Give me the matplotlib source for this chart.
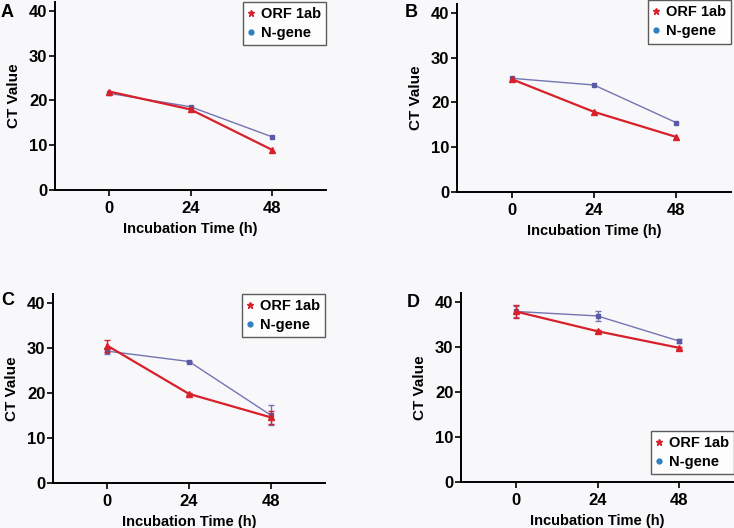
import matplotlib
matplotlib.use("Agg")
import matplotlib.pyplot as plt
from matplotlib.lines import Line2D

plt.rcParams['font.family'] = ['Liberation Sans', 'DejaVu Sans']
plt.rcParams['font.weight'] = 'bold'

# incubation times (h)
hours = [0, 24, 48]

# CT values per panel
orf_a = [22.0, 18.0, 9.0]
ngene_a = [21.6, 18.6, 11.9]

orf_b = [25.2, 17.9, 12.3]
ngene_b = [25.4, 23.9, 15.5]

orf_c = [30.5, 19.8, 14.6]
ngene_c = [29.3, 27.0, 15.1]
orf_c_err = [1.3, 0.3, 1.5]
ngene_c_err = [0.7, 0.2, 2.2]

orf_d = [37.9, 33.5, 29.8]
ngene_d = [37.9, 36.9, 31.3]
orf_d_err = [1.4, 0.3, 0.3]
ngene_d_err = [1.3, 1.2, 0.5]

panel_names = ['A', 'B', 'C', 'D']

red = '#d8202a'
purple = '#7474b4'
blue = '#2f80c0'
bg = '#f8f8fa'

fig = plt.figure(figsize=(7.34, 5.28), dpi=100, facecolor=bg)

W, H = 734, 528
# axes boxes in pixels: left, right, top, bottom
boxes = [(55, 326, 2, 190), (457, 731, 4, 192), (53, 325, 294, 483), (461, 734, 293, 482)]
letter_pos = [(1, 4), (405, 4), (1, 292), (407, 294)]
legend_loc = ['upper right', 'upper right', 'upper right', 'lower right']
legend_anchor = [(1.0, 1.0), (1.0, 1.02), (1.0, 1.0), (1.0, 0.04)]

data = [
    (orf_a, ngene_a, None, None),
    (orf_b, ngene_b, None, None),
    (orf_c, ngene_c, orf_c_err, ngene_c_err),
    (orf_d, ngene_d, orf_d_err, ngene_d_err),
]

for i in range(4):
    l, r, t, b = boxes[i]
    ax = fig.add_axes([l / W, 1 - b / H, (r - l) / W, (b - t) / H])
    ax.set_facecolor(bg)
    orf, ng, oe, ne = data[i]

    ax.errorbar(hours, ng, yerr=ne, color=purple, lw=1.0, marker='s', ms=3.5,
                mfc='#5a5aa6', mec='#5a5aa6', capsize=2, elinewidth=1.0, zorder=2)
    ax.errorbar(hours, orf, yerr=oe, color=red, lw=1.6, marker='^', ms=4,
                mfc=red, mec=red, capsize=2, elinewidth=1.0, zorder=3)

    ax.set_xlim(-16, 64)
    ax.set_ylim(0, 42)
    ax.set_xticks(hours)
    ax.set_yticks([0, 10, 20, 30, 40])
    ax.spines['top'].set_visible(False)
    ax.spines['right'].set_visible(False)
    ax.spines['left'].set_linewidth(1.4)
    ax.spines['bottom'].set_linewidth(1.4)
    ax.tick_params(width=1.2, length=4, labelsize=12)
    ax.tick_params(axis='y', pad=1.5)
    ax.tick_params(axis='x', pad=4)
    for lab in ax.get_xticklabels() + ax.get_yticklabels():
        lab.set_fontweight('bold')
    ax.set_xlabel('Incubation Time (h)', fontsize=10.5, fontweight='bold', labelpad=4)
    ax.set_ylabel('CT Value', fontsize=11, fontweight='bold', labelpad=6)

    handles = [
        Line2D([], [], ls='none', marker='*', ms=5, color=red, label='ORF 1ab'),
        Line2D([], [], ls='none', marker='o', ms=3.5, color=blue, label='N-gene'),
    ]
    leg = ax.legend(handles=handles, loc=legend_loc[i], bbox_to_anchor=legend_anchor[i],
                    frameon=True, fancybox=False, handlelength=0.5,
                    handletextpad=0.4, borderpad=0.35, labelspacing=0.35,
                    borderaxespad=0.0, prop={'weight': 'bold', 'size': 10.5})
    leg.get_frame().set_edgecolor('#333333')
    leg.get_frame().set_linewidth(1.0)
    leg.get_frame().set_facecolor('white')

    x, y = letter_pos[i]
    fig.text(x / W, 1 - y / H, panel_names[i], fontsize=13, fontweight='bold', va='top', ha='left')

fig.savefig('out.png', dpi=100, facecolor=bg)
